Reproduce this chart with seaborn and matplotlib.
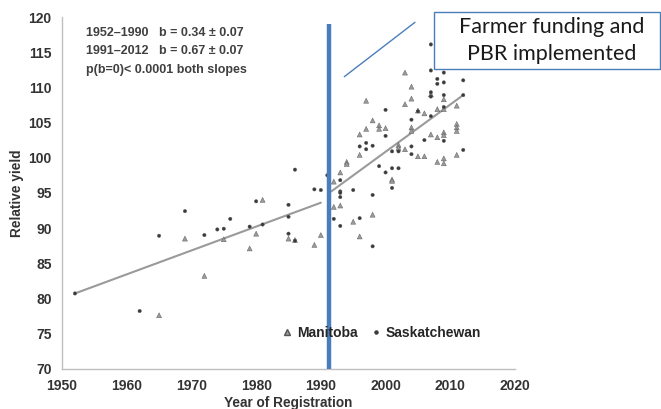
import matplotlib
matplotlib.use("Agg")
import matplotlib.pyplot as plt
from matplotlib.lines import Line2D
from matplotlib.patches import Rectangle
import seaborn as sns
import pandas as pd

# Manitoba entries (triangles)
man_years = [1965, 1969, 1972, 1975, 1979, 1980, 1981, 1985, 1986, 1989, 1990,
             1992, 1992, 1993, 1993, 1994, 1994, 1995, 1996, 1996, 1996,
             1997, 1997, 1998, 1998, 1999, 1999, 2000, 2001, 2001, 2002, 2002,
             2003, 2003, 2003, 2004, 2004, 2004, 2004, 2005, 2005, 2006, 2006,
             2007, 2007, 2008, 2008, 2008, 2009, 2009, 2009, 2009, 2009, 2009,
             2011, 2011, 2011, 2011, 2011]
man_vals = [77.6, 88.5, 83.2, 88.4, 87.1, 89.2, 94.0, 88.5, 88.3, 87.6, 89.0,
            96.6, 93.0, 93.2, 97.9, 99.4, 99.1, 90.9, 88.8, 103.3, 100.4,
            108.1, 104.1, 91.9, 105.3, 104.6, 104.1, 104.2, 96.9, 96.7, 101.8, 101.4,
            112.1, 107.6, 101.2, 110.1, 108.4, 104.3, 103.8, 106.7, 100.2, 106.3, 100.2,
            103.3, 109.0, 106.9, 102.9, 99.4, 108.3, 106.9, 103.6, 103.2, 99.9, 99.2,
            107.4, 104.8, 104.3, 103.8, 100.4]

# Saskatchewan entries (dots)
sask_years = [1952, 1962, 1965, 1969, 1972, 1974, 1975, 1976, 1979, 1980, 1981,
              1985, 1985, 1985, 1986, 1986, 1989, 1990, 1991, 1992, 1993, 1993,
              1993, 1993, 1993, 1995, 1996, 1998, 1998, 1996, 1997, 1997, 1998,
              1999, 2000, 2000, 2000, 2001, 2001, 2001, 2002, 2002, 2004, 2004,
              2004, 2005, 2006, 2007, 2007, 2007, 2007, 2007, 2008, 2008, 2009,
              2009, 2009, 2009, 2009, 2012, 2012, 2012]
sask_vals = [80.7, 78.2, 88.9, 92.4, 89.0, 89.8, 89.9, 91.3, 90.2, 93.8, 90.5,
             91.6, 89.2, 93.3, 88.2, 98.3, 95.5, 95.4, 97.5, 91.3, 95.2, 95.0,
             94.4, 90.3, 96.8, 95.4, 91.4, 94.7, 87.4, 101.6, 102.1, 101.2, 101.7,
             98.8, 106.8, 103.1, 97.9, 100.9, 98.5, 95.7, 100.9, 98.5, 105.4, 101.6,
             100.5, 106.6, 102.5, 116.1, 112.4, 109.3, 108.7, 105.9, 111.2, 110.5, 112.1,
             110.7, 108.9, 107.2, 102.4, 111.0, 108.9, 101.1]

# fitted trend segments
fit1_years = [1952, 1990]
fit1_vals = [80.7, 93.6]
fit2_years = [1991.6, 2012]
fit2_vals = [95.2, 108.9]

policy_year = 1991.3

stats_lines = ["1952\u20131990   b = 0.34 \u00b1 0.07",
               "1991\u20132012   b = 0.67 \u00b1 0.07",
               "p(b=0)< 0.0001 both slopes"]

df = pd.DataFrame({
    "Year": man_years + sask_years,
    "Yield": man_vals + sask_vals,
    "Province": ["Manitoba"] * len(man_years) + ["Saskatchewan"] * len(sask_years),
})

sns.set_style("white")
plt.rcParams["font.family"] = ["Liberation Sans", "DejaVu Sans"]
plt.rcParams["font.weight"] = "bold"
plt.rcParams["axes.labelweight"] = "bold"

fig = plt.figure(figsize=(6.61, 4.09), dpi=100)
ax = fig.add_axes([0.0938, 0.0985, 0.6853, 0.8599])

ax.plot(fit1_years, fit1_vals, color="#9a9a9a", lw=1.5, zorder=2)
ax.plot(fit2_years, fit2_vals, color="#9a9a9a", lw=1.5, zorder=2)

sns.scatterplot(data=df, x="Year", y="Yield", hue="Province", style="Province",
                markers={"Manitoba": "^", "Saskatchewan": "o"},
                palette={"Manitoba": "#9a9a9a", "Saskatchewan": "#3a3a3a"},
                size="Province", sizes={"Manitoba": 13, "Saskatchewan": 6},
                edgecolor="#555555", linewidth=0.3, legend=False, ax=ax, zorder=3)

ax.vlines(policy_year, 70, 119, color="#4a7ebb", lw=3.2, zorder=4)

ax.set_xlim(1950, 2020)
ax.set_ylim(70, 120)
ax.set_xticks(range(1950, 2021, 10))
ax.set_yticks(range(70, 121, 5))
for side in ["top", "right"]:
    ax.spines[side].set_visible(False)
for side in ["left", "bottom"]:
    ax.spines[side].set_color("#bfbfbf")
    ax.spines[side].set_linewidth(1.0)
ax.tick_params(axis="both", direction="out", length=4, color="#bfbfbf",
               labelsize=10, labelcolor="#333333")
plt.setp(ax.get_xticklabels() + ax.get_yticklabels(), fontweight="bold")

ax.set_xlabel("Year of Registration", fontsize=9.8, color="#333333", labelpad=2)
ax.set_ylabel("Relative yield", fontsize=9.8, color="#333333", labelpad=3)

for i, line in enumerate(stats_lines):
    fig.text(0.130, 1 - (33 + 18.5 * i) / 409, line, fontsize=9,
             color="#404040", va="center", ha="left")

handles = [Line2D([], [], marker="^", ls="", color="#9a9a9a", mec="#555555", ms=4),
           Line2D([], [], marker="o", ls="", color="#3a3a3a", ms=2.2)]
ax.legend(handles, ["Manitoba", "Saskatchewan"], ncol=2, frameon=False,
          loc="center", bbox_to_anchor=(0.576, 0.186), bbox_transform=fig.transFigure,
          prop={"weight": "bold", "size": 10}, handletextpad=0.2, columnspacing=0.8,
          handlelength=1.0, labelcolor="#262626")

# callout box
fig.patches.append(Rectangle((0.6566, 0.8313), 0.342, 0.1394, transform=fig.transFigure,
                             fill=True, facecolor="white", edgecolor="#4a7ebb", lw=1.0))
fig.text(0.834, 0.900, "Farmer funding and\nPBR implemented", fontsize=15.5,
         family=["Lato", "DejaVu Sans"], fontweight="normal", ha="center", va="center",
         color="#1a1a1a", linespacing=1.45)
fig.lines.append(Line2D([0.5209, 0.6278], [0.8125, 0.9455], transform=fig.transFigure,
                        color="#4a7ebb", lw=1.0))

fig.savefig("out.png", dpi=100)
